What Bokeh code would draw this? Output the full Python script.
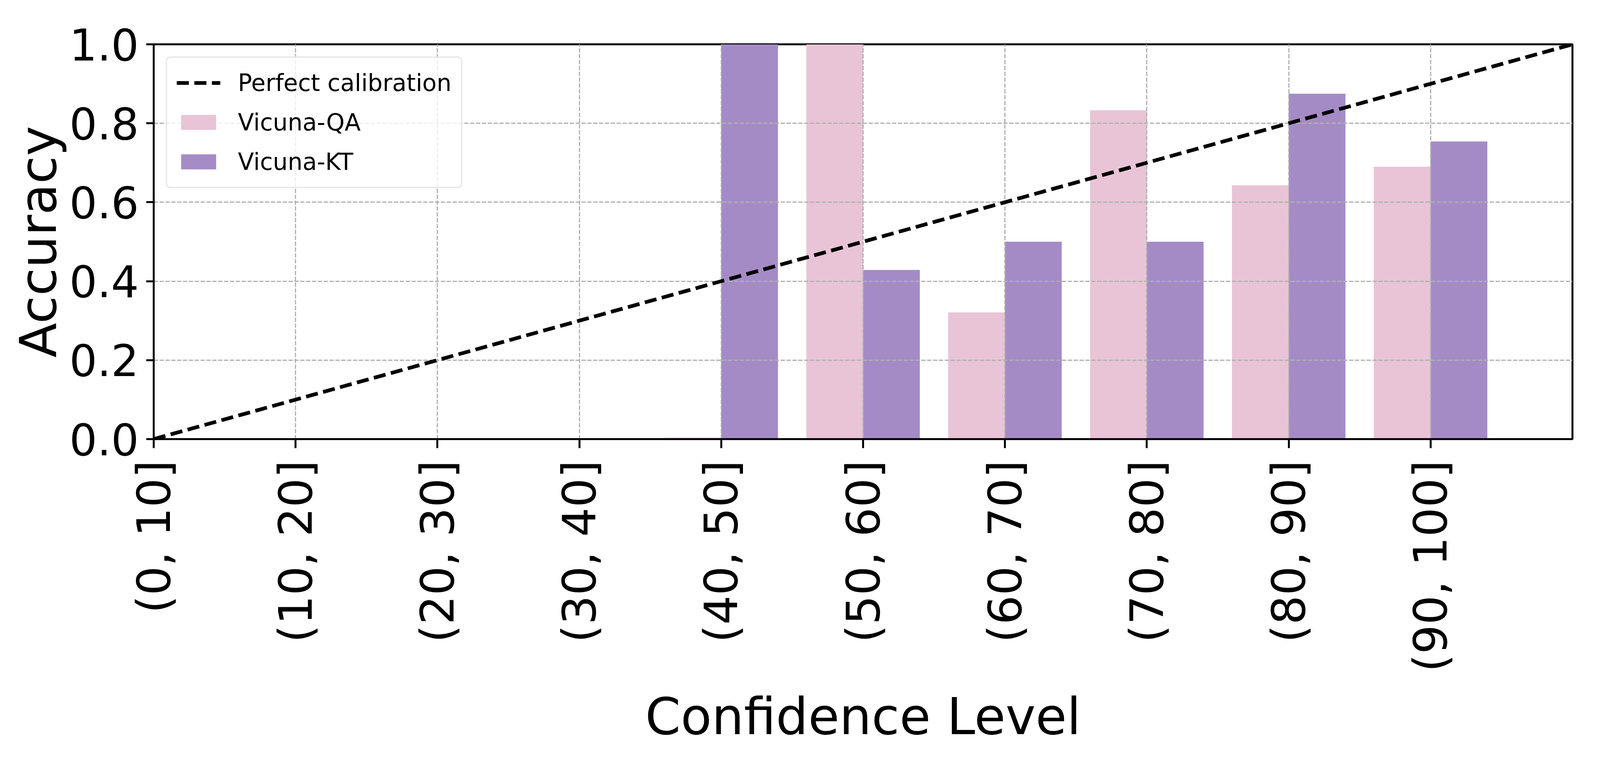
import math
from bokeh.plotting import figure
from bokeh.models import (ColumnDataSource, Range1d, FixedTicker, Legend, LegendItem)
from bokeh.transform import dodge
from bokeh.embed import file_html
from bokeh.resources import INLINE

# ---- data ----
bins = ["(0, 10]", "(10, 20]", "(20, 30]", "(30, 40]", "(40, 50]",
        "(50, 60]", "(60, 70]", "(70, 80]", "(80, 90]", "(90, 100]"]
bin_pos = list(range(len(bins)))
vicuna_qa = [0.0, 0.0, 0.0, 0.0, 0.004, 1.0, 0.321, 0.833, 0.643, 0.69]
vicuna_kt = [0.0, 0.0, 0.0, 0.0, 1.0, 0.4286, 0.5, 0.5, 0.875, 0.754]
calib_x = [0, 10]
calib_y = [0.0, 1.0]
y_ticks = [0.0, 0.2, 0.4, 0.6, 0.8, 1.0]

FONT = "DejaVu Sans"
PINK = "#E8C4D6"
PURPLE = "#A58BC6"

# the browser viewport is 4096 x 2000 px
src = ColumnDataSource(dict(x=bin_pos, qa=vicuna_qa, kt=vicuna_kt))

p = figure(frame_width=3632, frame_height=1011,
           x_range=Range1d(0, 10), y_range=Range1d(0, 1),
           output_backend="svg", toolbar_location=None,
           min_border_left=393, min_border_right=53,
           min_border_top=113, min_border_bottom=858,
           background_fill_color="white", border_fill_color="white")

r_qa = p.vbar(x=dodge("x", -0.2, range=p.x_range), top="qa", width=0.4, source=src,
              fill_color=PINK, line_color=None, level="image")
r_kt = p.vbar(x=dodge("x", 0.2, range=p.x_range), top="kt", width=0.4, source=src,
              fill_color=PURPLE, line_color=None, level="image")
r_line = p.line(calib_x, calib_y, line_color="black", line_width=9.5,
                line_dash="31 14", level="glyph")

p.grid.grid_line_color = "#b0b0b0"
p.grid.grid_line_width = 3
p.grid.grid_line_dash = "11 4"
p.grid.level = "underlay"

p.xaxis.ticker = FixedTicker(ticks=bin_pos)
p.xaxis.major_label_overrides = {i: lab for i, lab in zip(bin_pos, bins)}
p.xaxis.major_label_orientation = math.pi / 2
p.yaxis.ticker = FixedTicker(ticks=y_ticks)
p.yaxis.major_label_overrides = {t: f"{t:.1f}" for t in y_ticks}

for ax in (p.xaxis[0], p.yaxis[0]):
    ax.axis_line_color = "black"
    ax.axis_line_width = 5
    ax.major_tick_line_color = "black"
    ax.major_tick_line_width = 5
    ax.major_tick_in = 0
    ax.minor_tick_line_color = None
    ax.major_label_text_font = FONT
    ax.major_label_text_color = "black"
    ax.axis_label_text_font = FONT
    ax.axis_label_text_font_size = "130px"
    ax.axis_label_text_font_style = "normal"
    ax.axis_label_text_color = "black"

p.xaxis.major_label_text_font_size = "118px"
p.yaxis.major_label_text_font_size = "112px"
p.xaxis.major_tick_out = 23
p.yaxis.major_tick_out = 19
p.xaxis.axis_label = "Confidence Level"
p.yaxis.axis_label = "Accuracy"
p.xaxis.major_label_standoff = 31
p.yaxis.major_label_standoff = 19
p.xaxis.axis_label_standoff = 35
p.yaxis.axis_label_standoff = 0

p.outline_line_color = "black"
p.outline_line_width = 5

legend = Legend(items=[
    LegendItem(label="Perfect calibration", renderers=[r_line]),
    LegendItem(label="Vicuna-QA", renderers=[r_qa]),
    LegendItem(label="Vicuna-KT", renderers=[r_kt]),
], location="top_left")
legend.margin = 31
legend.padding = 24
legend.spacing = 21
legend.glyph_width = 112
legend.glyph_height = 48
legend.label_height = 80
legend.label_standoff = 45
legend.label_text_font = FONT
legend.label_text_font_size = "60px"
legend.label_text_color = "black"
legend.border_line_color = "#d6d6d6"
legend.border_line_width = 4
legend.background_fill_color = "white"
legend.background_fill_alpha = 0.8
if "border_radius" in legend.properties():
    legend.border_radius = 12
p.add_layout(legend)

open("out.html", "w").write(file_html(p, INLINE))
